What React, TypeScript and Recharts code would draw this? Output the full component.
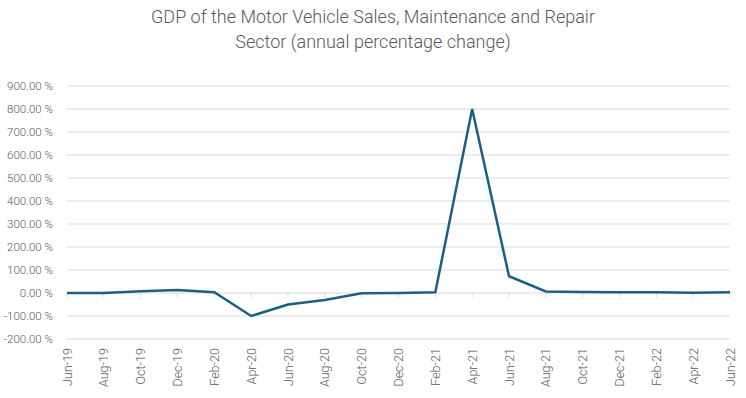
import React from 'react';
import { LineChart, Line, XAxis, YAxis, CartesianGrid, ReferenceLine } from 'recharts';

const categories = ['Jun-19','Aug-19','Oct-19','Dec-19','Feb-20','Apr-20','Jun-20','Aug-20','Oct-20','Dec-20','Feb-21','Apr-21','Jun-21','Aug-21','Oct-21','Dec-21','Feb-22','Apr-22','Jun-22'];
const gdpChange = [0, 0, 8, 13, 3, -100, -50, -30, -1, 0, 3, 800, 73, 7, 4, 3, 3, 1, 3];
const yTicks = [-200, -100, 0, 100, 200, 300, 400, 500, 600, 700, 800, 900];

const data = categories.map((c, i) => ({ month: c, value: gdpChange[i] }));

const FONT = 'Roboto, "Noto Sans", sans-serif';

const XTick = (props: any) => {
  const { x, y, payload } = props;
  const yy = y + 5;
  return (
    <text x={x} y={yy} transform={`rotate(-90, ${x}, ${yy})`} textAnchor="end" dominantBaseline="central"
      fill="#595959" fontSize={12.5} fontFamily={FONT} fontWeight={300}>
      {payload.value}
    </text>
  );
};

export default function App() {
  return (
    <div style={{ position: 'absolute', left: 0, top: 0, width: 746, height: 398, background: '#fff' }}>
      <div style={{ position: 'absolute', left: 0, top: 4, width: 746, textAlign: 'center', fontFamily: FONT, fontWeight: 300, fontSize: 18, lineHeight: '25px', color: '#595959' }}>
        GDP of the Motor Vehicle Sales, Maintenance and Repair<br />Sector (annual percentage change)
      </div>
      <LineChart width={746} height={398} data={data} margin={{ top: 86, right: 16, left: 0, bottom: 0 }}>
        <CartesianGrid vertical={false} stroke="#d9d9d9" strokeWidth={1} />
        <XAxis dataKey="month" interval={0} axisLine={false} tickLine={false} height={59} tick={<XTick />} tickMargin={4} tickSize={0} />
        <YAxis width={67} domain={[-200, 900]} ticks={yTicks} axisLine={false} tickLine={false} tickSize={0} tickMargin={14}
          tickFormatter={(v: number) => `${v.toFixed(2)} %`}
          tick={{ fill: '#595959', fontSize: 11.5, fontFamily: FONT, fontWeight: 300 }} />
        <ReferenceLine y={0} stroke="#d9d9d9" strokeWidth={1} />
        {categories.map((c) => (
          <ReferenceLine key={c} segment={[{ x: c, y: 0 }, { x: c, y: -20 }]} stroke="#d9d9d9" strokeWidth={1} />
        ))}
        <Line type="linear" dataKey="value" stroke="#1c5f80" strokeWidth={2.5} dot={false} isAnimationActive={false} />
      </LineChart>
    </div>
  );
}
